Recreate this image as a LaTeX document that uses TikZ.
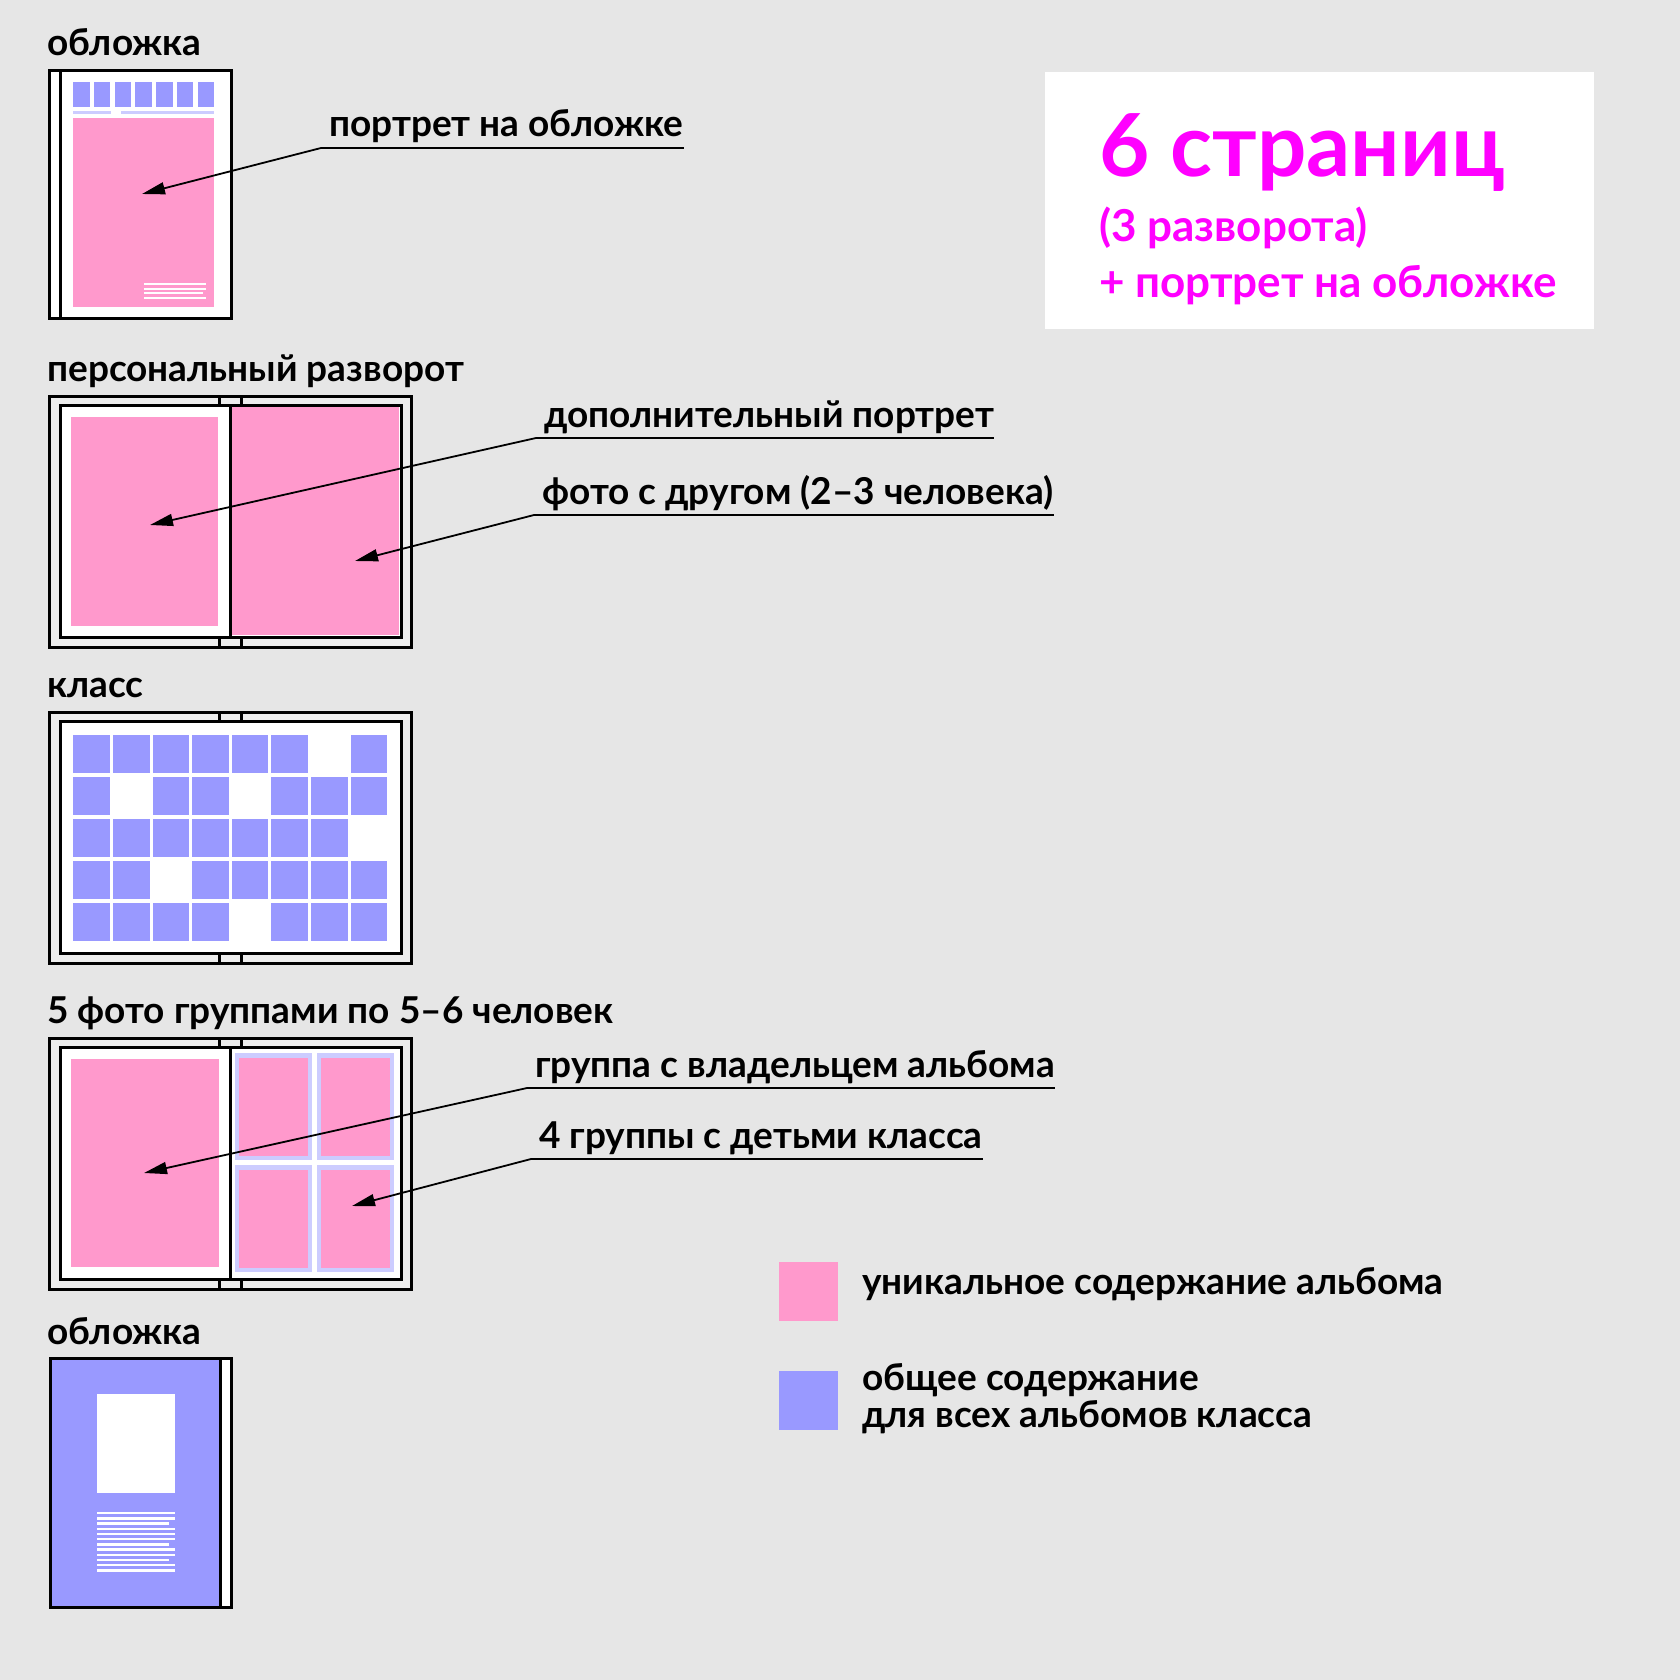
\documentclass[tikz,border=0pt]{standalone}
\usepackage{fontspec}
\setmainfont{Lato}
\usetikzlibrary{
    positioning,
    arrows.meta
}
\definecolor{fondo}{HTML}{E6E6E6}
\definecolor{claro}{HTML}{EDEDED}
\definecolor{rosa}{HTML}{FF99CC}
\definecolor{lila}{HTML}{9999FF}
\definecolor{lilaclaro}{HTML}{CCCCFF}
\definecolor{fucsia}{HTML}{FF00FF}
\tikzset{
    >={Triangle[length=23pt,width=12pt]},
    marco/.style={
        draw=black,
        line width=3pt
    },
    lomo/.style={line width=3pt},
    seccion/.style={
        anchor=base west,
        inner sep=0pt,
        font=\bfseries\fontsize{37}{44}\selectfont
    },
    rotulo/.style={seccion},
    guia/.style={line width=1.8pt},
    grande/.style={
        anchor=base west,
        inner sep=0pt,
        text=fucsia,
        font=\bfseries\fontsize{87}{100}\selectfont
    },
    medio/.style={
        grande,
        font=\bfseries\fontsize{44}{50}\selectfont
    },
    pics/pliego/.style={code={
        \draw[marco, fill=claro] (0,0) rectangle (362,251);
        \draw[marco, fill=white] (11,9) rectangle (352,241);
        \draw[marco, fill=claro] (170,0) rectangle (192,9);
        \draw[marco, fill=claro] (170,241) rectangle (192,251);
    }}
}
\begin{document}
\begin{tikzpicture}[
    x=1pt,
    y=-1pt
]

    \fill[fondo] (0,0) rectangle (1680,1680);
    \useasboundingbox (0,0) rectangle (1680,1680);

    % Portada
    \node[seccion] (tportada) at (47,56) {обложка};
    \draw[marco, fill=white] (49,71) rectangle (231,318);
    \draw[lomo] (60,71) -- (60,318);
    \foreach \i in {0,...,6}
        \fill[lila] ({73+20.75*\i},82) rectangle ++(16.5,25);
    \fill[lilaclaro] (73,111) rectangle (111,114);
    \fill[lilaclaro] (121,111) rectangle (214,114);
    \fill[rosa] (73,118) rectangle (214,307);
    \foreach \y/\w in {283/62,287.7/62,292.3/59,297/62}
        \fill[white] (144,\y) rectangle ++(\w,1.8);

    % Pliego personal
    \node[seccion] (tpersonal) at (47,381) {персональный разворот};
    \pic at (49,396) {pliego};
    \fill[rosa] (71,417) rectangle (218,626);
    \fill[rosa] (232,407) rectangle (399,635);
    \draw[lomo] (230,405) -- (230,637);

    % Clase
    \node[seccion] (tclase) at (47,697) {класс};
    \pic at (49,712) {pliego};
    \foreach \fila [count=\r from 0] in {
        {1,1,1,1,1,1,0,1},
        {1,0,1,1,0,1,1,1},
        {1,1,1,1,1,1,1,0},
        {1,1,0,1,1,1,1,1},
        {1,1,1,1,0,1,1,1}}
        \foreach \v [count=\c from 0] in \fila {
            \ifnum\v=1
                \fill[lila] ({73.3+39.6*\c},{735+42*\r}) rectangle ++(36.7,37.5);
            \fi
        };

    % Grupos
    \node[seccion] (tgrupos) at (47,1023) {5 фото группами по 5–6 человек};
    \pic at (49,1038) {pliego};
    \fill[rosa] (71,1059) rectangle (219,1267);
    \foreach \x in {235,317}
        \foreach \y in {1053,1165} {
            \fill[lilaclaro] (\x,\y) rectangle ++(77,107);
            \fill[rosa] ({\x+4},{\y+5}) rectangle ++(69,98);
        };
    \draw[lomo] (230,1047) -- (230,1279);

    % Contraportada
    \node[seccion] (tcontra) at (47,1344) {обложка};
    \fill[lila] (50,1358) rectangle (220,1607);
    \fill[white] (220,1358) rectangle (231,1607);
    \draw[marco] (50,1358) rectangle (231,1607);
    \draw[lomo] (220,1358) -- (220,1607);
    \fill[white] (97,1394) rectangle (175,1493);
    \foreach \k in {0,...,11}
        \fill[white] (97,{1512+5.2*\k}) rectangle ++(78,2.4);
    \foreach \k in {2,6,9}
        \fill[lila] (169,{1512+5.2*\k}) rectangle ++(7,2.4);

    % Rotulos y flechas
    \coordinate (u1) at (321,148);
    \coordinate (p1) at (142,194);
    \node[rotulo] (l1) at ([shift={(8,-11)}]u1) {портрет на обложке};
    \draw[guia] (u1) -- (u1 -| l1.east);
    \draw[guia, ->] (u1) -- (p1);

    \coordinate (u2) at (536,438);
    \coordinate (p2) at (150,525);
    \node[rotulo] (l2) at ([shift={(8,-11)}]u2) {дополнительный портрет};
    \draw[guia] (u2) -- (u2 -| l2.east);
    \draw[guia, ->] (u2) -- (p2);

    \coordinate (u3) at (534,515);
    \coordinate (p3) at (355,561);
    \node[rotulo] (l3) at ([shift={(8,-11)}]u3) {фото с другом (2–3 человека)};
    \draw[guia] (u3) -- (u3 -| l3.east);
    \draw[guia, ->] (u3) -- (p3);

    \coordinate (u4) at (527,1088);
    \coordinate (p4) at (144,1173);
    \node[rotulo] (l4) at ([shift={(8,-11)}]u4) {группа с владельцем альбома};
    \draw[guia] (u4) -- (u4 -| l4.east);
    \draw[guia, ->] (u4) -- (p4);

    \coordinate (u5) at (531,1159);
    \coordinate (p5) at (352,1206);
    \node[rotulo] (l5) at ([shift={(8,-11)}]u5) {4 группы с детьми класса};
    \draw[guia] (u5) -- (u5 -| l5.east);
    \draw[guia, ->] (u5) -- (p5);

    % Titulo
    \fill[white] (1045,72) rectangle (1594,329);
    \node[grande] (t1) at (1099,177) {6 страниц};
    \node[medio] (t2) at (1099,242) {(3 разворота)};
    \node[medio] (t3) at (1099,297) {+ портрет на обложке};

    % Leyenda
    \fill[rosa] (779,1262) rectangle (838,1321);
    \fill[lila] (779,1371) rectangle (838,1430);
    \node[rotulo] (ley1) at (862,1294) {уникальное содержание альбома};
    \node[rotulo] (ley2) at (862,1390) {общее содержание};
    \node[rotulo] (ley3) at (862,1427) {для всех альбомов класса};

\end{tikzpicture}
\end{document}
